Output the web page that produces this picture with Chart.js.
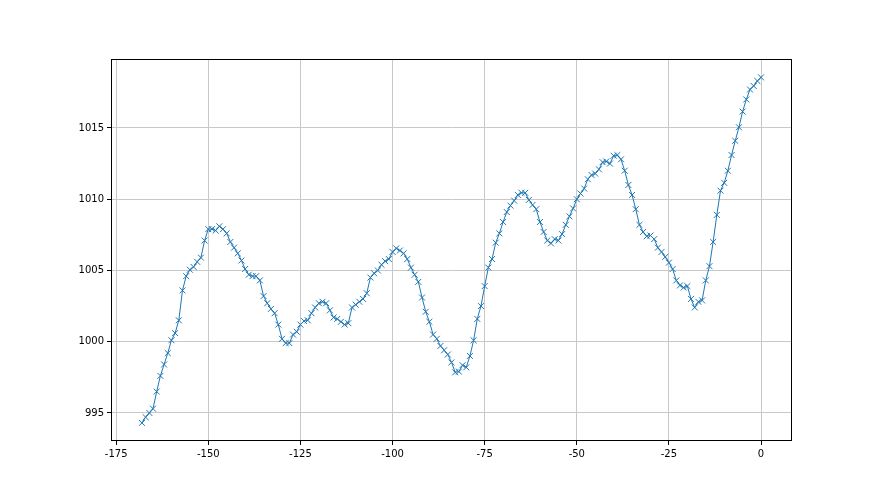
<!DOCTYPE html>
<html>
<head>
<meta charset="utf-8">
<script src="https://cdn.jsdelivr.net/npm/chart.js@4/dist/chart.umd.min.js"></script>
<style>
html,body{margin:0;padding:0;background:#fff;}
canvas{display:block;}
</style>
</head>
<body>
<canvas id="c" width="880" height="495"></canvas>
<script>
const hours = [];
for (let h = -168; h <= 0; h++) hours.push(h);
const pressure = [
994.3,994.7,995.0,995.3,996.5,997.6,998.4,999.2,1000.1,1000.6,
1001.5,1003.6,1004.6,1005.05,1005.25,1005.6,1005.9,1007.1,1007.9,1007.9,
1007.8,1008.1,1007.9,1007.6,1007.0,1006.6,1006.2,1005.7,1005.1,1004.7,
1004.6,1004.6,1004.3,1003.2,1002.7,1002.3,1002.0,1001.2,1000.2,999.9,
999.9,1000.5,1000.7,1001.2,1001.45,1001.5,1002.0,1002.4,1002.7,1002.8,
1002.7,1002.2,1001.7,1001.6,1001.4,1001.2,1001.3,1002.4,1002.6,1002.8,
1003.0,1003.4,1004.5,1004.8,1005.0,1005.4,1005.65,1005.8,1006.3,1006.55,
1006.4,1006.2,1005.8,1005.2,1004.7,1004.2,1003.1,1002.1,1001.4,1000.5,
1000.2,999.7,999.4,999.1,998.55,997.85,997.9,998.35,998.2,999.0,
1000.1,1001.6,1002.5,1003.9,1005.2,1005.8,1006.95,1007.6,1008.4,1009.1,
1009.55,1009.9,1010.3,1010.45,1010.45,1009.95,1009.6,1009.3,1008.4,1007.7,
1007.1,1006.9,1007.2,1007.1,1007.55,1008.2,1008.8,1009.35,1010.0,1010.4,
1010.75,1011.4,1011.7,1011.8,1012.1,1012.6,1012.65,1012.5,1013.05,1013.1,
1012.8,1012.0,1011.0,1010.3,1009.3,1008.2,1007.7,1007.4,1007.45,1007.2,
1006.6,1006.3,1005.95,1005.55,1005.1,1004.3,1003.95,1003.8,1003.9,1003.0,
1002.4,1002.8,1002.9,1004.3,1005.3,1007.0,1008.9,1010.6,1011.15,1012.0,
1013.1,1014.1,1015.05,1016.15,1017.0,1017.7,1017.95,1018.3,1018.55
];
const xTicks = [-175,-150,-125,-100,-75,-50,-25,0];
const yTicks = [995,1000,1005,1010,1015];

const points = hours.map((h, i) => ({x: h, y: pressure[i]}));

const frame = {
  id: 'frame',
  afterDraw(chart) {
    const a = chart.chartArea, ctx = chart.ctx;
    ctx.save();
    ctx.strokeStyle = '#000';
    ctx.lineWidth = 1;
    ctx.strokeRect(Math.round(a.left) + 0.5, Math.round(a.top) + 0.5,
                   Math.round(a.right - a.left) - 1, Math.round(a.bottom - a.top) - 1);
    ctx.restore();
  }
};
const bg = {
  id: 'bg',
  beforeDraw(chart) {
    const ctx = chart.ctx;
    ctx.save();
    ctx.fillStyle = '#fff';
    ctx.fillRect(0, 0, chart.width, chart.height);
    ctx.restore();
  }
};

new Chart(document.getElementById('c'), {
  type: 'scatter',
  data: {
    datasets: [{
      data: points,
      showLine: true,
      borderColor: '#1f77b4',
      borderWidth: 1,
      pointStyle: 'crossRot',
      pointRadius: 4.2,
      pointBorderWidth: 1,
      pointBorderColor: '#1f77b4',
      pointBackgroundColor: '#1f77b4',
      tension: 0
    }]
  },
  options: {
    responsive: false,
    animation: false,
    devicePixelRatio: 1,
    layout: {padding: {left: 0, top: 59, right: 88, bottom: 0}},
    plugins: {legend: {display: false}, tooltip: {enabled: false}},
    scales: {
      x: {
        type: 'linear',
        min: -176.4, max: 8.4,
        afterBuildTicks(s) { s.ticks = xTicks.map(v => ({value: v})); },
        afterFit(s) { s.height = 54; },
        ticks: {color: '#000', font: {family: 'DejaVu Sans', size: 10}, padding: 3, maxRotation: 0, includeBounds: false,
                callback: v => String(v)},
        grid: {color: '#c8c8c8', lineWidth: 1, tickLength: 4, tickColor: '#000', drawTicks: true},
        border: {display: false}
      },
      y: {
        type: 'linear',
        min: 993.03, max: 1019.84,
        afterBuildTicks(s) { s.ticks = yTicks.map(v => ({value: v})); },
        afterFit(s) { s.width = 111; },
        ticks: {color: '#000', font: {family: 'DejaVu Sans', size: 10}, padding: 3, includeBounds: false,
                callback: v => String(v)},
        grid: {color: '#c8c8c8', lineWidth: 1, tickLength: 4, tickColor: '#000', drawTicks: true},
        border: {display: false}
      }
    }
  },
  plugins: [bg, frame]
});
</script>
</body>
</html>
